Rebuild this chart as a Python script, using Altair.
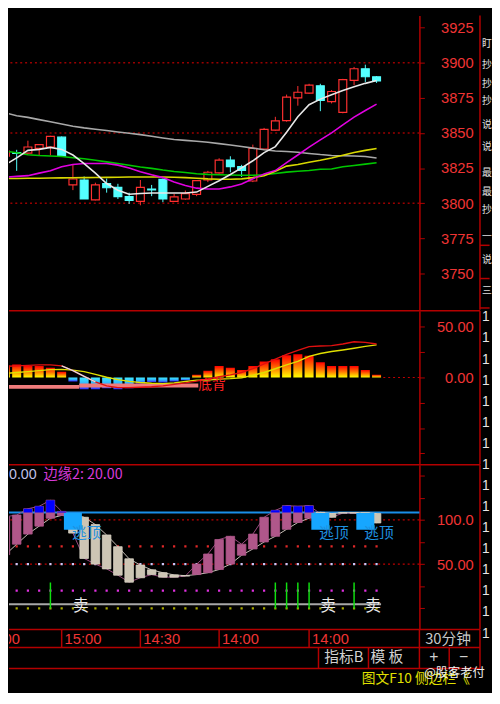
import altair as alt
import pandas as pd

# ------------------------------------------------------------------ data
idx = list(range(-1, 33))

open_ = [3833.5, 3836, 3835.6, 3839, 3840, 3847, 3813, 3816.5, 3802.3, 3814, 3811.3, 3804.7,
         3801.3, 3810, 3817, 3801.3, 3803, 3806.3, 3816.5, 3821.6, 3830.7, 3826, 3815.8, 3838.5,
         3852, 3858.8, 3875, 3878.4, 3883.6, 3872.3, 3864.7, 3887.4, 3895.7, 3890]
high_ = [3837.5, 3838, 3844.5, 3842, 3848, 3847.5, 3827.7, 3819, 3814.6, 3817.5, 3813.8, 3807.5,
         3816.5, 3813, 3817.5, 3806.6, 3809, 3816.5, 3823, 3832, 3833.4, 3827.3, 3841.7, 3853.6,
         3861.5, 3877.3, 3883.4, 3885, 3885, 3880.5, 3888.5, 3897, 3898.6, 3890.5]
low_ = [3832, 3823, 3835, 3834, 3834, 3833, 3809.3, 3803, 3802, 3807.5, 3803, 3799.5,
        3798.5, 3805, 3800.7, 3801, 3802.5, 3805, 3815, 3821, 3822, 3818.7, 3815, 3838,
        3851.5, 3858, 3869.4, 3878, 3865.5, 3871, 3864, 3884, 3886.3, 3885.6]
close_ = [3837, 3835.5, 3840, 3841.7, 3847.6, 3833.4, 3817.2, 3803, 3813, 3811, 3804.7, 3802,
          3811.3, 3809.5, 3803, 3804.5, 3806.8, 3816, 3822, 3830.7, 3826, 3823.3, 3839, 3852.5,
          3858.6, 3875.5, 3879, 3884, 3873.2, 3879.5, 3888, 3895.7, 3890, 3887]

ma_white = [3827.4, 3832.2, 3837.6, 3838.3, 3839.7, 3838.3, 3834.3, 3828.2, 3821.4, 3814, 3809.2,
            3806.4, 3806.9, 3807.2, 3807.2, 3807.2, 3807.2, 3807.9, 3812, 3816, 3820.4, 3825.1,
            3830.2, 3836, 3840.3, 3850.5, 3861.5, 3870.1, 3874.1, 3877.2, 3880.2, 3882.9, 3885.3, 3887.4]
ma_grey = [3864.3, 3862.2, 3861.1, 3859.5, 3857.9, 3856.4, 3854.8, 3853.6, 3852.7, 3851.7, 3850.7,
           3849.8, 3848.8, 3847.6, 3846.4, 3845.3, 3844.7, 3844.1, 3843.4, 3842.4, 3841.4, 3840.3,
           3839.2, 3838, 3837.2, 3836.8, 3836.3, 3835.4, 3834.6, 3834, 3833.8, 3833.6, 3833.2, 3832.2]
ma_green = [3837.1, 3835.9, 3834.5, 3833.9, 3833.6, 3833.2, 3832.4, 3831.7, 3830.6, 3829.4, 3828.2,
            3827, 3825.8, 3824.8, 3823.6, 3822.6, 3821.8, 3820.9, 3820.5, 3820.3, 3820.1, 3819.9,
            3819.9, 3820.2, 3821.1, 3822.1, 3822.8, 3823.3, 3824.1, 3824.4, 3825.9, 3826.8, 3827.8, 3828.8]
ma_yellow = [3817.6, 3817.6, 3817.7, 3817.8, 3817.9, 3818, 3818.1, 3818.2, 3818.3, 3818.4, 3818.5,
             3818.6, 3818.7, 3818.7, 3818.7, 3818.5, 3818.2, 3817.8, 3817.3, 3817, 3817, 3817.3,
             3818.2, 3819.5, 3822.8, 3826.4, 3827.5, 3829.1, 3830.5, 3832.2, 3834.1, 3836.1, 3837.6, 3839]
ma_magenta = [3818.5, 3819.1, 3819.6, 3821.4, 3823.1, 3826, 3827.6, 3828.2, 3828.3, 3828.2, 3827.1,
              3825.1, 3822.4, 3820.2, 3818.2, 3815.1, 3812.6, 3810.7, 3810.1, 3810.1, 3811.6, 3813.6,
              3817.4, 3820.7, 3823.2, 3828.9, 3834.3, 3839.9, 3845.1, 3850.1, 3855.7, 3861.3, 3866, 3870.5]

macd_hist = [12, 12.8, 11.3, 11.3, 9.7, 5.6, -3.8, -11.6, -11.6, -10.7, -11.6, -10.7, -6, -4.4, -5,
             -3.8, -2.8, 2.8, 6.6, 11.3, 9.7, 7.5, 11.3, 15.9, 18.1, 22.1, 23.1, 21.6, 15, 11.3,
             11.3, 11.3, 7.5, 2.8]
dif = [11.1, 11.5, 12, 12.5, 12.5, 11.5, 6.8, 1.2, -4.4, -8.2, -10, -10, -9.6, -9.1, -8.2, -6.8,
       -5.3, -3.5, -1.3, 0.8, 2.6, 5, 8.7, 13.4, 18.1, 22.8, 26.8, 30.6, 31.2, 31.5, 33.1, 35.3, 34.7, 33.1]
dea = [4, 5, 5.9, 6.8, 7.8, 8.1, 7.3, 5.9, 3.1, 0.3, -2.1, -3.8, -4.9, -5.6, -6, -5.3, -3.9, -2.5,
       -2.5, -1.6, -1.1, -0.2, 2.2, 5, 8.7, 12.5, 15.9, 20.9, 23.7, 25.7, 27.2, 28.9, 30.8, 32.2]
div_seg_from = [-0.684, 5.56]
div_seg_to = [5.56, 16.15]
div_seg_val = [-9.2, -7.9]

ind_k = [103.5, 105.4, 112.5, 115.3, 122.2, 109.5, 85, 56.4, 50, 44.6, 37.5, 29.6, 34.6, 38.2, 35.3,
         35.3, 36.5, 50, 61.4, 77.8, 81.4, 72.5, 83.9, 102.9, 110.7, 116, 115.3, 116, 107, 102.9,
         107.6, 107.6, 105, 96.5]
ind_d = [60.7, 72.5, 83.9, 92.9, 101.8, 105, 106.5, 102.9, 94.6, 82.9, 69.7, 56, 48.9, 43.5, 40.3,
         37.8, 37, 38.2, 40.3, 43.9, 50, 60, 67.1, 75, 81.4, 89.3, 97, 101.8, 108.5, 107.1, 108.1,
         108.1, 108, 107.1]
top_line = [108.2]
base_line = [4.6]
escape_idx = [5, 27, 31]
green_idx = [3, 23, 24, 25, 26, 30]

price_ticks = [3750, 3775, 3800, 3825, 3850, 3875, 3900, 3925]
price_grid = [3800, 3850, 3900]
macd_ticks = [-75, -50, -25, 0, 25, 50]
ind_ticks = [0, 25, 50, 75, 100, 125, 150]

time_idx = [-3.25, 4, 11, 18, 26]
time_labels = ["14:00", "15:00", "14:30", "14:00", "14:00"]
side_chars = ["盯", "抄", "抄", "抄", "说", "说", "最", "最", "抄", "一", "说", "三"]

# ------------------------------------------------------------------ layout / style
SX, SY = 0.98, 0.968
W = 427 * SX
H1, H2, H3, H4 = 310 * SY, 162 * SY, 173 * SY, 59 * SY
XR = 490 * SX
XDOM = [-0.684, 35.81]
LINE = "#b40000"
LAB = "#f03434"
NUMF = "Liberation Sans"
CJK = "Noto Sans CJK SC"
RED = "#ff3030"
CYAN = "#54ffff"

xs = alt.Scale(domain=XDOM, nice=False, zero=False)


def X(f):
    return alt.X(f, scale=xs, axis=None)


one = pd.DataFrame({"a": [0]})


def hline(yv, x0=0.0, x1=XR, color=LINE, w=1.5):
    return alt.Chart(one).mark_rule(color=color, strokeWidth=w).encode(
        x=alt.value(float(x0)), x2=alt.value(float(x1)), y=alt.value(float(yv)))


def vline(xv, y0, y1, color=LINE, w=1.5):
    return alt.Chart(one).mark_rule(color=color, strokeWidth=w).encode(
        x=alt.value(float(xv)), y=alt.value(float(y0)), y2=alt.value(float(y1)))


def label(txt, xv, yv, color, size=15, font=CJK, align="left"):
    return alt.Chart(one).mark_text(text=txt, color=color, fontSize=size, font=font,
                                    align=align, baseline="middle").encode(
        x=alt.value(float(xv)), y=alt.value(float(yv)))


def raxis(values, fmt=None, expr=None):
    kw = dict(orient="right", values=values, title=None, grid=False, domainColor=LINE,
              domainWidth=1.5, tickColor=LINE, tickSize=5, tickWidth=1, labelColor=LAB,
              labelFont=NUMF, labelFontSize=15, labelAlign="right",
              labelPadding=(483 - 427) * SX - 5, labelBaseline="middle", labelOverlap=False)
    if fmt:
        kw["format"] = fmt
    if expr:
        kw["labelExpr"] = expr
    return alt.Axis(**kw)


# ------------------------------------------------------------------ price panel
price = pd.DataFrame({"i": idx, "open": open_, "high": high_, "low": low_, "close": close_})
price["dir"] = ["up" if c >= o else "down" for o, c in zip(open_, close_)]
ys1 = alt.Scale(domain=[3724.05, 3933.58], nice=False, zero=False)
AX1 = raxis(price_ticks, fmt="d")


def Y1(f):
    return alt.Y(f, scale=ys1, axis=AX1)


grid1 = alt.Chart(pd.DataFrame({"v": price_grid})).mark_rule(
    color="#9a0000", strokeDash=[2, 3], strokeWidth=1.5).encode(y=Y1("v:Q"))

candle_layers = []
for dname, wick_col, fill_col in [("up", RED, "#000000"), ("down", CYAN, CYAN)]:
    sub = price[price["dir"] == dname]
    candle_layers.append(alt.Chart(sub).mark_rule(clip=True, strokeWidth=1, color=wick_col).encode(
        x=X("i:Q"), y=Y1("low:Q"), y2="high:Q"))
    candle_layers.append(alt.Chart(sub).transform_calculate(
        x0="datum.i - 0.35", x1="datum.i + 0.35").mark_rect(
        clip=True, strokeWidth=1.2, fill=fill_col, stroke=wick_col).encode(
        x=X("x0:Q"), x2="x1:Q", y=Y1("open:Q"), y2="close:Q"))

ma_layers = []
for series, col in [(ma_grey, "#a8a8a8"), (ma_green, "#00c800"), (ma_yellow, "#d8d800"),
                    (ma_magenta, "#e000e0"), (ma_white, "#e8e8e8")]:
    d = pd.DataFrame({"i": idx, "v": series})
    ma_layers.append(alt.Chart(d).mark_line(clip=True, color=col, strokeWidth=1.6).encode(
        x=X("i:Q"), y=Y1("v:Q")))

side_y = [30, 52, 72, 90, 115, 138, 166, 186, 205, 233, 258, 290]
side_layers = [label(c, 492 * SX, yy * SY, "#e0e0e0", size=10) for c, yy in zip(side_chars, side_y)]
side_layers += [hline(yy * SY, XR, 500 * SX) for yy in (242, 277, 308)]

p1 = alt.layer(grid1, *candle_layers, *ma_layers, vline(XR, 0, H1), *side_layers).properties(
    width=W, height=H1)

# ------------------------------------------------------------------ MACD panel
macd = pd.DataFrame({"i": idx, "h": macd_hist, "dif": dif, "dea": dea})
macd["zero"] = 0.0
ys2 = alt.Scale(domain=[-86.0, 65.95], nice=False, zero=False)
AX2 = raxis(macd_ticks, expr="datum.value === 50 ? '50.00' : (datum.value === 0 ? '0.00' : '')")


def Y2(f):
    return alt.Y(f, scale=ys2, axis=AX2)


zero2 = alt.Chart(pd.DataFrame({"a": [32.6], "b": [XDOM[1]], "v": [0.0]})).mark_rule(
    color="#c00000", strokeDash=[2, 3], strokeWidth=1.2).encode(x=X("a:Q"), x2="b:Q", y=Y2("v:Q"))

grad_pos = alt.LinearGradient(gradient="linear", x1=0, x2=0, y1=0, y2=1, stops=[
    alt.GradientStop(color="#ff0000", offset=0), alt.GradientStop(color="#ff7800", offset=0.5),
    alt.GradientStop(color="#ffff00", offset=1)])
grad_neg = alt.LinearGradient(gradient="linear", x1=0, x2=0, y1=0, y2=1, stops=[
    alt.GradientStop(color="#40e8ff", offset=0), alt.GradientStop(color="#30b8ff", offset=0.5),
    alt.GradientStop(color="#3a2cff", offset=1)])

bars_pos = alt.Chart(macd).transform_filter("datum.h > 0").transform_calculate(
    x0="datum.i - 0.4", x1="datum.i + 0.4").mark_rect(clip=True, fill=grad_pos).encode(
    x=X("x0:Q"), x2="x1:Q", y=Y2("h:Q"), y2="zero:Q")
bars_neg = alt.Chart(macd).transform_filter("datum.h < 0").transform_calculate(
    x0="datum.i - 0.4", x1="datum.i + 0.4").mark_rect(clip=True, fill=grad_neg).encode(
    x=X("x0:Q"), x2="x1:Q", y=Y2("zero:Q"), y2="h:Q")

divline = alt.Chart(pd.DataFrame({"a": div_seg_from, "b": div_seg_to, "v": div_seg_val})).mark_rule(
    clip=True, color="#f07c7c", strokeWidth=4).encode(x=X("a:Q"), x2="b:Q", y=Y2("v:Q"))

dea_line = alt.Chart(macd).mark_line(clip=True, color="#e0e000", strokeWidth=1.4).encode(
    x=X("i:Q"), y=Y2("dea:Q"))
dif_line = alt.Chart(macd).mark_line(clip=True, color="#e01010", strokeWidth=1.4).encode(
    x=X("i:Q"), y=Y2("dif:Q"))
dif_white = alt.Chart(macd).transform_filter("datum.i >= 4 && datum.i <= 7").mark_line(
    clip=True, color="#e0e0e0", strokeWidth=1.4).encode(x=X("i:Q"), y=Y2("dif:Q"))

dibei = alt.Chart(pd.DataFrame({"i": [16.15], "v": [-7.2], "t": ["底背"]})).mark_text(
    align="left", baseline="middle", color="#ff2020", fontSize=14, font=CJK).encode(
    x=X("i:Q"), y=Y2("v:Q"), text="t:N")

ones_y = [317 + 22.2 * k for k in range(16)]
ones = [label("1", 492 * SX, (yy - 310) * SY, "#e8e8e8", size=14, font=NUMF) for yy in ones_y]

p2 = alt.layer(zero2, bars_pos, bars_neg, divline, dea_line, dif_line, dif_white, dibei,
               hline(0), vline(XR, 0, H2), *ones).properties(width=W, height=H2)

# ------------------------------------------------------------------ indicator panel
ind = pd.DataFrame({"i": idx, "k": ind_k, "d": ind_d})
ind["lo"] = ind[["k", "d"]].min(axis=1)
ind["hi"] = ind[["k", "d"]].max(axis=1)
ind["dir"] = ["up" if k > d else "down" for k, d in zip(ind_k, ind_d)]
tops = ind[(ind["dir"] == "up") & (ind["hi"] > top_line[0])].copy()
tops["base"] = top_line[0]
ys3 = alt.Scale(domain=[-23.3, 162.2], nice=False, zero=False)
AX3 = raxis(ind_ticks, expr="datum.value === 100 ? '100.0' : (datum.value === 50 ? '50.00' : '')")


def Y3(f):
    return alt.Y(f, scale=ys3, axis=AX3)


grid3 = alt.Chart(pd.DataFrame({"v": [100, 50]})).mark_rule(
    color="#c00000", strokeDash=[2, 3], strokeWidth=1.2).encode(y=Y3("v:Q"))

dot_layers = []
for lvl, col in [(70, "#e02828"), (50, "#c8c8f8"), (20, "#e030e0"), (0, "#a8a800")]:
    d = pd.DataFrame({"i": idx, "v": [lvl] * len(idx)})
    dot_layers.append(alt.Chart(d).mark_square(clip=True, size=5, color=col, opacity=1).encode(
        x=X("i:Q"), y=Y3("v:Q")))

base3 = alt.Chart(pd.DataFrame({"a": [XDOM[0]], "b": [32.4], "v": base_line})).mark_rule(
    clip=True, color="#a8a8a8", strokeWidth=2).encode(x=X("a:Q"), x2="b:Q", y=Y3("v:Q"))
blue3 = alt.Chart(pd.DataFrame({"v": top_line})).mark_rule(color="#1a8ee8", strokeWidth=2).encode(
    y=Y3("v:Q"))

k_line = alt.Chart(ind).mark_line(clip=True, color="#9a4a80", strokeWidth=1).encode(
    x=X("i:Q"), y=Y3("k:Q"))
d_line = alt.Chart(ind).mark_line(clip=True, color="#c8c0b8", strokeWidth=1).encode(
    x=X("i:Q"), y=Y3("d:Q"))

ibar_layers = []
for dname, col, scol in [("up", "#b0578a", "#b0578a"), ("down", "#cdc5b4", "#d8d2c4")]:
    ibar_layers.append(alt.Chart(ind[ind["dir"] == dname]).transform_calculate(
        x0="datum.i - 0.38", x1="datum.i + 0.38").mark_rect(
        clip=True, strokeWidth=0.8, fill=col, stroke=scol).encode(
        x=X("x0:Q"), x2="x1:Q", y=Y3("lo:Q"), y2="hi:Q"))
itops = alt.Chart(tops).transform_calculate(x0="datum.i - 0.38", x1="datum.i + 0.38").mark_rect(
    clip=True, color="#0000ff").encode(x=X("x0:Q"), x2="x1:Q", y=Y3("base:Q"), y2="hi:Q")

green = alt.Chart(pd.DataFrame({"i": green_idx, "a": [0.0] * len(green_idx),
                                "b": [29.3] * len(green_idx)})).mark_rule(
    clip=True, color="#10e010", strokeWidth=1.5).encode(x=X("i:Q"), y=Y3("a:Q"), y2="b:Q")

esc = pd.DataFrame({"i": escape_idx, "t": ["逃顶"] * len(escape_idx), "s": ["卖"] * len(escape_idx)})
boxes = alt.Chart(esc).transform_calculate(
    x0="datum.i - 0.8", x1="datum.i + 0.8", y0="88.9", y1="107.7").mark_rect(
    clip=True, color="#16a6ff").encode(x=X("x0:Q"), x2="x1:Q", y=Y3("y0:Q"), y2="y1:Q")
esc_txt = alt.Chart(esc).transform_calculate(v="85").mark_text(
    align="left", baseline="middle", dx=-1, color="#1e90e0", fontSize=15, font=CJK).encode(
    x=X("i:Q"), y=Y3("v:Q"), text="t:N")
sell_txt = alt.Chart(esc).transform_calculate(v="2.5").mark_text(
    align="left", baseline="middle", dx=0, color="#e8e8e8", fontSize=16, font=CJK).encode(
    x=X("i:Q"), y=Y3("v:Q"), text="s:N")

p3 = alt.layer(grid3, *dot_layers, base3, blue3, k_line, d_line, *ibar_layers, itops, green, boxes,
               esc_txt, sell_txt,
               label("0.00", 0, 11 * SY, "#c0c0e8", size=14.5, font=NUMF),
               label("边缘2: 20.00", 36 * SX, 11 * SY, "#d83ad8", size=14.5),
               hline(0), vline(XR, 0, H3)).properties(width=W, height=H3)

# ------------------------------------------------------------------ time axis + bottom bar
tdf = pd.DataFrame({"i": time_idx, "lab": time_labels})
tdiv = alt.Chart(tdf).mark_rule(clip=True, color=LINE, strokeWidth=1.5).encode(
    x=X("i:Q"), y=alt.value(0.0), y2=alt.value(19 * SY))
tlab = alt.Chart(tdf).mark_text(clip=True, align="left", baseline="middle", dx=3, color=LAB,
                                fontSize=15, font=NUMF).encode(
    x=X("i:Q"), y=alt.value(10 * SY), text="lab:N")

GREY = "#d0d0d0"
p4 = alt.layer(
    tdiv, tlab,
    hline(0), hline(19 * SY), hline(41 * SY),
    vline(W, 0, 41 * SY), vline(XR, 0, 41 * SY),
    vline(322 * SX, 19 * SY, 41 * SY), vline(374 * SX, 19 * SY, 41 * SY), vline(458 * SX, 19 * SY, 41 * SY),
    label("30分钟", 433 * SX, 10 * SY, "#c8c8c8", size=15),
    label("指标B", 328 * SX, 29 * SY, GREY, size=15),
    label("模 板", 376 * SX, 29 * SY, GREY, size=15),
    label("+", 442 * SX, 29 * SY, GREY, size=16, font=NUMF, align="center"),
    label("−", 473 * SX, 29 * SY, GREY, size=16, font=NUMF, align="center"),
    label("图文F10 侧边栏《", 367 * SX, 52 * SY, "#e0e000", size=14),
    label("@股客老付", 432 * SX, 45.5 * SY, "#f0f0f0", size=12.5),
).properties(width=W, height=H4)

chart = alt.vconcat(p1, p2, p3, p4, spacing=0, bounds="flush").properties(
    background="#000000", padding=0).configure_view(strokeWidth=0)

chart.save("out.html", embed_options={"renderer": "svg", "actions": False})
